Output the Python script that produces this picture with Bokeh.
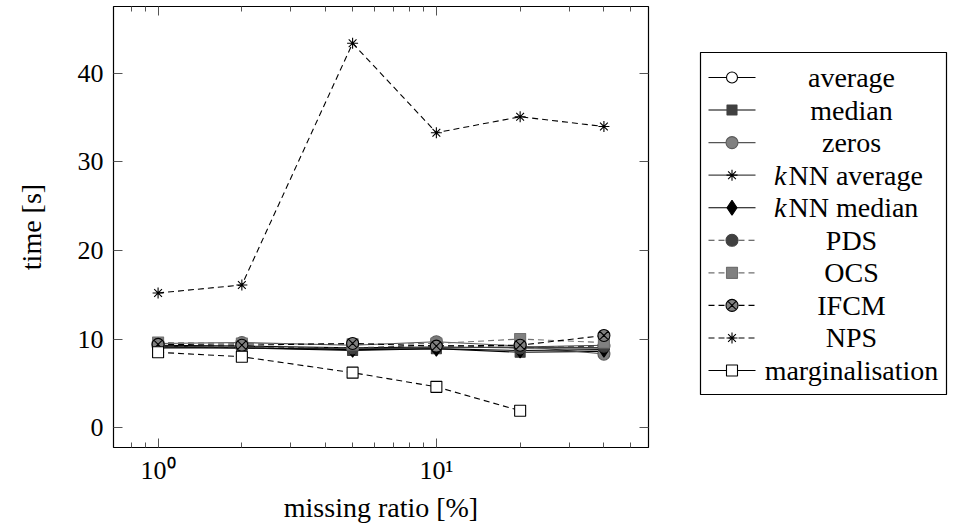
import math
from bokeh.plotting import figure
from bokeh.models import FixedTicker, LinearAxis, LogAxis, Range1d, Spacer
from bokeh.layouts import row, column
from bokeh.embed import file_html
from bokeh.resources import INLINE
from bokeh.core.properties import value

# ---------------- data ----------------
missing_ratio = [1, 2, 5, 10, 20, 40]
average = [9.3, 9.2, 9.0, 9.1, 9.0, 9.0]
median = [9.2, 9.0, 8.7, 8.9, 8.5, 8.6]
zeros = [9.5, 9.6, 9.3, 9.7, 9.2, 8.3]
knn_average = [9.1, 9.0, 8.9, 9.0, 9.1, 9.3]
knn_median = [9.0, 9.0, 8.8, 8.9, 8.7, 8.8]
pds = [9.2, 9.1, 9.0, 9.3, 9.0, 9.2]
ocs = [9.6, 9.5, 9.4, 9.5, 10.0, 9.6]
ifcm = [9.4, 9.3, 9.5, 9.2, 9.3, 10.4]
nps = [15.2, 16.1, 43.4, 33.3, 35.1, 34.0]
marginalisation_ratio = [1, 2, 5, 10, 20]
marginalisation = [8.5, 8.0, 6.2, 4.6, 1.9]

series_names = ["average", "median", "zeros", "kNN average", "kNN median",
                "PDS", "OCS", "IFCM", "NPS", "marginalisation"]
series_x = [missing_ratio] * 9 + [marginalisation_ratio]
series_y = [average, median, zeros, knn_average, knn_median,
            pds, ocs, ifcm, nps, marginalisation]

x_tick_values = [1, 10]
x_tick_labels = ["10⁰", "10¹"]
x_minor_ticks = [0.8, 0.9, 2, 3, 4, 5, 6, 7, 8, 9, 20, 30, 40, 50]
y_tick_values = [0, 10, 20, 30, 40]

# ---------------- styles ----------------
FONT = "Liberation Serif"
FS_TICK = "26px"
FS_TEXT = "28px"
DASH = "6 4"
styles = [
    dict(marker="circle", fill="white", edge="black", line="black", dash="solid", ldash="solid", size=11),
    dict(marker="square", fill="#404040", edge="#404040", line="black", dash="solid", ldash="solid", size=10),
    dict(marker="circle", fill="#808080", edge="#5a5a5a", line="#555555", dash="solid", ldash="solid", size=12),
    dict(marker="asterisk", fill=None, edge="black", line="#444444", dash="solid", ldash="solid", size=11),
    dict(marker="diamond", fill="black", edge="black", line="black", dash="solid", ldash="solid", size=15),
    dict(marker="circle", fill="#404040", edge="#404040", line="#404040", dash=DASH, ldash=DASH, size=12),
    dict(marker="square", fill="#808080", edge="#707070", line="#707070", dash=DASH, ldash=DASH, size=11),
    dict(marker="circle_x", fill="#808080", edge="black", line="black", dash=DASH, ldash=DASH, size=12),
    dict(marker="asterisk", fill=None, edge="black", line="black", dash=DASH, ldash=DASH, size=11),
    dict(marker="square", fill="white", edge="black", line="black", dash=DASH, ldash="solid", size=11),
]

# ---------------- ranges (10% enlargement, as pgfplots) ----------------
lx = [math.log10(v) for v in missing_ratio]
xpad = 0.1 * (max(lx) - min(lx))
x_range = Range1d(10 ** (min(lx) - xpad), 10 ** (max(lx) + xpad))
ally = [v for ys in series_y for v in ys]
ypad = 0.1 * (max(ally) - min(ally))
y_range = Range1d(min(ally) - ypad, max(ally) + ypad)

p = figure(x_axis_type="log", x_range=x_range, y_range=y_range, title=None,
           frame_width=535, frame_height=441,
           min_border_left=113, min_border_right=22, min_border_top=6, min_border_bottom=66,
           output_backend="svg", toolbar_location=None)
p.grid.visible = False
p.outline_line_color = "black"
p.outline_line_width = 1.2
p.background_fill_color = "white"

xticker = FixedTicker(ticks=x_tick_values, minor_ticks=x_minor_ticks)
yticker = FixedTicker(ticks=y_tick_values, minor_ticks=[])


def style_axis(ax, show_labels):
    ax.axis_line_color = None
    ax.major_tick_in = 9
    ax.major_tick_out = 0
    ax.minor_tick_in = 5
    ax.minor_tick_out = 0
    ax.major_tick_line_color = "#555555"
    ax.minor_tick_line_color = "#555555"
    ax.major_label_text_font = FONT
    ax.major_label_text_font_size = FS_TICK if show_labels else "1px"
    ax.major_label_text_color = "black"
    ax.axis_label_text_font = FONT
    ax.axis_label_text_font_size = FS_TEXT if show_labels else "1px"
    ax.axis_label_text_font_style = "normal"
    ax.axis_label_text_color = "black"
    if not show_labels:
        ax.major_label_standoff = 0
        ax.axis_label_standoff = 0


xa = p.xaxis[0]
xa.ticker = xticker
xa.major_label_overrides = {v: s for v, s in zip(x_tick_values, x_tick_labels)}
xa.axis_label = "missing ratio [%]"
style_axis(xa, True)
xa.major_label_standoff = 8
xa.axis_label_standoff = 4

ya = p.yaxis[0]
ya.ticker = yticker
ya.axis_label = "time [s]"
style_axis(ya, True)
ya.major_label_standoff = 10
ya.axis_label_standoff = 28

top = LogAxis(ticker=xticker)
top.major_label_overrides = {v: "" for v in x_tick_values}
style_axis(top, False)
p.add_layout(top, "above")
right = LinearAxis(ticker=yticker)
right.major_label_overrides = {v: "" for v in y_tick_values}
style_axis(right, False)
p.add_layout(right, "right")

for xs, ys, st in zip(series_x, series_y, styles):
    p.line(xs, ys, line_color=st["line"], line_width=1.1, line_dash=st["dash"])
for xs, ys, st in zip(series_x, series_y, styles):
    p.scatter(xs, ys, marker=st["marker"], size=st["size"],
              fill_color=st["fill"], line_color=st["edge"], line_width=1.1)

# ---------------- legend (separate panel, text centred like pgfplots) ----------------
LW, LH, LPAD = 246, 343, 25
row_h = (LH - 2 * LPAD) / (len(series_names) - 1)
leg = figure(x_range=Range1d(0, LW), y_range=Range1d(0, LH), title=None,
             frame_width=LW, frame_height=LH,
             min_border_left=30, min_border_right=4, min_border_top=0, min_border_bottom=0,
             x_axis_location=None, y_axis_location=None,
             output_backend="svg", toolbar_location=None)
leg.grid.visible = False
leg.outline_line_color = "black"
leg.outline_line_width = 1.2

for i, (name, st) in enumerate(zip(series_names, styles)):
    yc = LH - LPAD - row_h * i
    leg.line([8, 55], [yc, yc], line_color=st["line"], line_width=1.1, line_dash=st["ldash"])
    leg.scatter([31.5], [yc], marker=st["marker"], size=st["size"],
                fill_color=st["fill"], line_color=st["edge"], line_width=1.1)
    if name.startswith("kNN"):
        leg.text([86], [yc], text=["k"], text_font=value(FONT), text_font_size=FS_TEXT,
                 text_font_style="italic", text_align="right", text_baseline="middle")
        leg.text([88], [yc], text=[name[1:]], text_font=value(FONT), text_font_size=FS_TEXT,
                 text_align="left", text_baseline="middle")
    else:
        leg.text([151], [yc], text=[name], text_font=value(FONT), text_font_size=FS_TEXT,
                 text_align="center", text_baseline="middle")

layout = row(p, column(Spacer(width=280, height=52), leg))
open("out.html", "w").write(file_html(layout, INLINE))
